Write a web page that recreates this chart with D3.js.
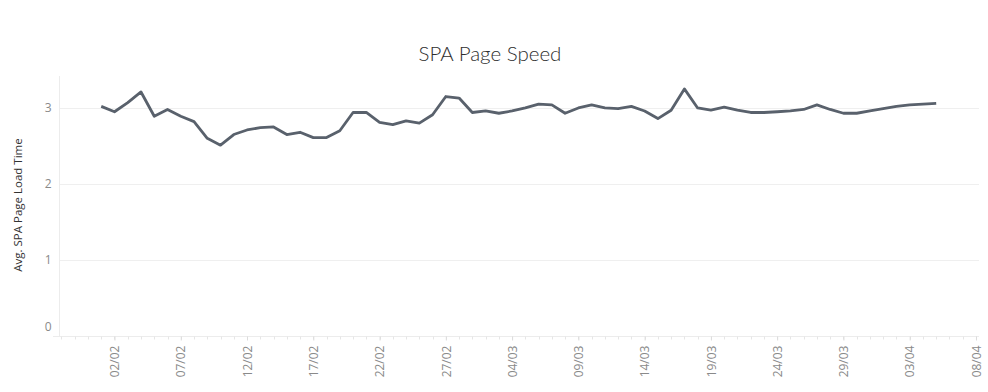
<!DOCTYPE html>
<html>
<head>
<meta charset="utf-8">
<script src="https://cdn.jsdelivr.net/npm/d3@7"></script>
<style>
  body { margin: 0; background: #fff; }
  svg { display: block; font-family: "Open Sans", Arial, sans-serif; }
</style>
</head>
<body>
<svg id="chart" width="988" height="392"></svg>
<script>
// Data: one point per day, 1 Feb to 5 Apr 2023
const startDate = new Date(2023, 1, 1);
const loadTimes = [
  3.02, 2.95, 3.07, 3.21, 2.89, 2.98, 2.89, 2.82, 2.60, 2.51,
  2.65, 2.71, 2.74, 2.75, 2.65, 2.68, 2.61, 2.61, 2.70, 2.94,
  2.94, 2.81, 2.78, 2.83, 2.80, 2.91, 3.15, 3.13, 2.94, 2.96,
  2.93, 2.96, 3.00, 3.05, 3.04, 2.93, 3.00, 3.04, 3.00, 2.99,
  3.02, 2.96, 2.86, 2.97, 3.25, 3.00, 2.97, 3.01, 2.97, 2.94,
  2.94, 2.95, 2.96, 2.98, 3.04, 2.98, 2.93, 2.93, 2.96, 2.99,
  3.02, 3.04, 3.05, 3.06
];
const yTicks = [0, 1, 2, 3];
const xTickDates = [
  new Date(2023, 1, 2), new Date(2023, 1, 7), new Date(2023, 1, 12),
  new Date(2023, 1, 17), new Date(2023, 1, 22), new Date(2023, 1, 27),
  new Date(2023, 2, 4), new Date(2023, 2, 9), new Date(2023, 2, 14),
  new Date(2023, 2, 19), new Date(2023, 2, 24), new Date(2023, 2, 29),
  new Date(2023, 3, 3), new Date(2023, 3, 8)
];

const data = loadTimes.map((v, i) => ({ date: d3.timeDay.offset(startDate, i), value: v }));

const svg = d3.select("#chart");
const plotLeft = 59, plotRight = 979, plotTop = 76, plotBottom = 336;

const xScale = d3.scaleTime()
  .domain([new Date(2023, 0, 28, 19, 30), new Date(2023, 3, 8, 5, 30)])
  .range([plotLeft, plotRight]);

const yScale = d3.scaleLinear()
  .domain([0, 3.42])
  .range([plotBottom, plotTop]);

// Title
svg.append("text")
  .attr("x", 490)
  .attr("y", 61)
  .attr("text-anchor", "middle")
  .attr("font-size", 20.5)
  .attr("font-weight", 300)
  .attr("font-family", "Lato, 'Open Sans', sans-serif")
  .attr("fill", "#2e2e2e")
  .text("SPA Page Speed");

// Gridlines
svg.append("g")
  .selectAll("line")
  .data(yTicks.filter(d => d > 0))
  .enter()
  .append("line")
    .attr("x1", plotLeft)
    .attr("x2", plotRight)
    .attr("y1", d => Math.round(yScale(d)) + 0.5)
    .attr("y2", d => Math.round(yScale(d)) + 0.5)
    .attr("stroke", "#efefef");

// Y axis
const yAxis = svg.append("g")
  .attr("transform", `translate(${plotLeft + 0.5},0)`)
  .call(d3.axisLeft(yScale).tickValues(yTicks).tickFormat(d3.format("d")).tickSize(0).tickPadding(8));
yAxis.select(".domain").attr("stroke", "#ececec").attr("d", `M0,${plotTop}V${plotBottom}`);
yAxis.selectAll("text")
  .attr("font-size", 12)
  .attr("fill", "#8a8a8a")
  .attr("font-family", "'Open Sans', Arial, sans-serif");
yAxis.selectAll(".tick").filter(d => d === 0).select("text").attr("dy", "-0.45em");

svg.append("text")
  .attr("transform", "translate(22,205) rotate(-90)")
  .attr("text-anchor", "middle")
  .attr("font-size", 11.5)
  .attr("fill", "#333")
  .text("Avg. SPA Page Load Time");

// X axis: daily minor ticks, labelled every 5 days
const xAxisG = svg.append("g").attr("transform", `translate(0,${plotBottom + 0.5})`);
xAxisG.append("line")
  .attr("x1", 53).attr("x2", plotRight)
  .attr("stroke", "#ececec");
xAxisG.selectAll(".minor")
  .data(d3.timeDay.range(new Date(2023, 0, 29), new Date(2023, 3, 9)))
  .enter()
  .append("line")
    .attr("class", "minor")
    .attr("x1", d => Math.round(xScale(d)) + 0.5)
    .attr("x2", d => Math.round(xScale(d)) + 0.5)
    .attr("y1", 0)
    .attr("y2", 3)
    .attr("stroke", "#e6e6e6");

const xAxis = xAxisG.append("g")
  .call(d3.axisBottom(xScale)
    .tickValues(xTickDates)
    .tickFormat(d3.timeFormat("%d/%m"))
    .tickSize(4));
xAxis.select(".domain").remove();
xAxis.selectAll(".tick line").attr("stroke", "#dcdcdc");
xAxis.selectAll("text")
  .attr("transform", "rotate(-90)")
  .attr("text-anchor", "end")
  .attr("x", -9)
  .attr("y", 0)
  .attr("dy", "0.35em")
  .attr("font-size", 12)
  .attr("fill", "#8a8a8a")
  .attr("font-family", "'Open Sans', Arial, sans-serif");

// Line
const line = d3.line()
  .x(d => xScale(d.date))
  .y(d => yScale(d.value));

svg.append("path")
  .datum(data)
  .attr("fill", "none")
  .attr("stroke", "#59616c")
  .attr("stroke-width", 2.8)
  .attr("stroke-linejoin", "round")
  .attr("d", line);
</script>
</body>
</html>
